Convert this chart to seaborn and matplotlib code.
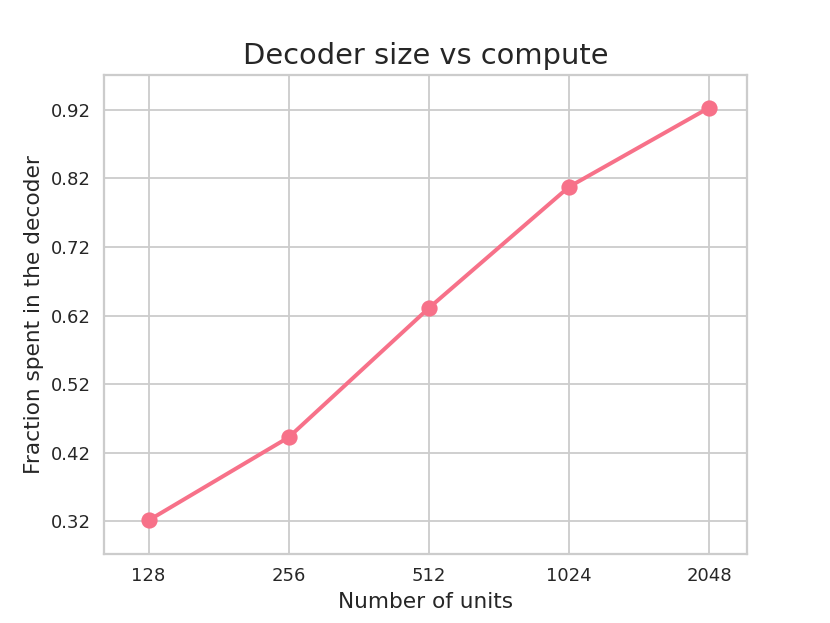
import matplotlib
matplotlib.use("Agg")
import matplotlib.pyplot as plt
import seaborn as sns
import pandas as pd

units = [128, 256, 512, 1024, 2048]
fraction = [0.3215, 0.4426, 0.631, 0.8076, 0.923]
yticks = [0.32, 0.42, 0.52, 0.62, 0.72, 0.82, 0.92]

sns.set_theme(style="whitegrid")
color = sns.color_palette("husl", 8)[0]

fig, ax = plt.subplots(figsize=(830/130, 623/130), dpi=130)
df = pd.DataFrame({"units": units, "fraction": fraction})
sns.lineplot(data=df, x="units", y="fraction", marker="o", markersize=9,
             markeredgewidth=0, color=color, linewidth=2.2, ax=ax)
ax.set_xscale("log", base=2)
ax.set_xticks(units)
ax.set_xticklabels([str(u) for u in units], fontsize=10)
ax.minorticks_off()
ax.set_xlim(128 / 2**0.32, 2048 * 2**0.27)
ax.set_yticks(yticks)
ax.set_yticklabels([f"{v:.2f}" for v in yticks], fontsize=10)
ax.set_ylim(0.2718, 0.971)
ax.tick_params(axis="both", length=0, pad=7)
ax.set_xlabel("Number of units", fontsize=12)
ax.set_ylabel("Fraction spent in the decoder", fontsize=12)
ax.set_title("Decoder size vs compute", fontsize=16)
fig.savefig("out.png", dpi=130)
